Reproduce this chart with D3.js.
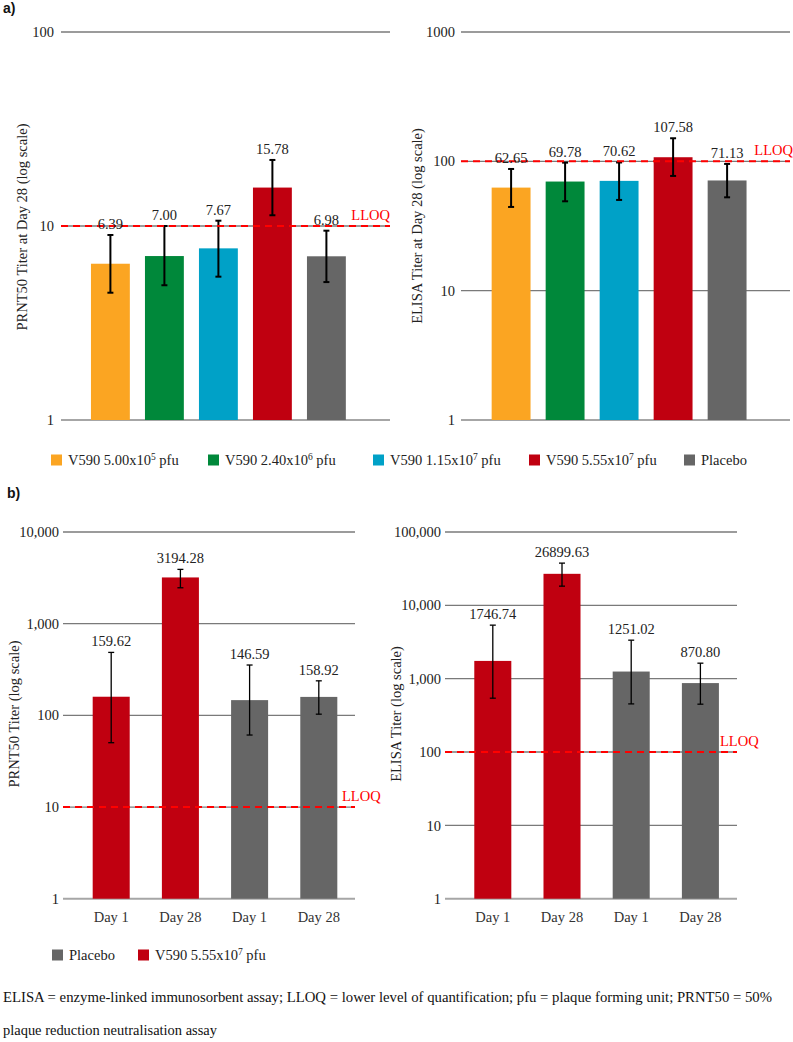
<!DOCTYPE html>
<html><head><meta charset="utf-8">
<script src="https://cdn.jsdelivr.net/npm/d3@7"></script>
<style>
body{margin:0;background:#fff}
svg{display:block}
</style>
</head><body>
<svg id="c" width="793" height="1042"></svg>
<script>
// ---------- data ----------
const doseBase = ["V590 5.00x10", "V590 2.40x10", "V590 1.15x10", "V590 5.55x10", "Placebo"];
const doseExp  = ["5", "6", "7", "7", ""];
const doseColors = ["#FBA522", "#00883A", "#00A1C7", "#C00010", "#666666"];

const prntD28    = [6.39, 7.00, 7.67, 15.78, 6.98];
const prntD28Lo  = [4.53, 4.95, 5.48, 11.36, 5.14];
const prntD28Hi  = [8.99, 10.0, 10.65, 21.9, 9.46];

const elisaD28   = [62.65, 69.78, 70.62, 107.58, 71.13];
const elisaD28Lo = [44.4, 49.1, 50.3, 77.1, 52.7];
const elisaD28Hi = [87.3, 97.7, 98.0, 150.8, 95.5];

const dayLabels  = ["Day 1", "Day 28", "Day 1", "Day 28"];
const dayGroup   = [3, 3, 4, 4]; // index into doseColors
const prntDay    = [159.62, 3194.28, 146.59, 158.92];
const prntDayLo  = [50.3, 2464, 61, 103];
const prntDayHi  = [486, 3910, 354, 238];
const elisaDay   = [1746.74, 26899.63, 1251.02, 870.80];
const elisaDayLo = [542, 18270, 453, 449];
const elisaDayHi = [5370, 37650, 3350, 1627];

const ticksA1 = [1, 10, 100];
const ticksA2 = [1, 10, 100, 1000];
const ticksB1 = [1, 10, 100, 1000, 10000];
const ticksB2 = [1, 10, 100, 1000, 10000, 100000];
const lloqPRNT = 10, lloqELISA = 100;

// ---------- drawing ----------
const SERIF = "'Liberation Serif', 'Times New Roman', Times, 'DejaVu Serif', serif";
const SANS = "'Liberation Sans', Arial, Helvetica, sans-serif";
const svg = d3.select("#c").attr("font-family", SERIF);
const fmt2 = d3.format(".2f");

function panel(o) {
  const g = svg.append("g");
  const y = d3.scaleLog().domain([1, o.max]).range([o.yBot, o.yTop]);
  const x = d3.scaleBand().domain(d3.range(o.values.length)).range(o.band)
    .paddingInner(o.pi).paddingOuter(o.pi / 2);

  // gridlines
  g.selectAll("line.grid").data(o.ticks.filter(t => t > 1)).join("line")
    .attr("x1", o.gx0).attr("x2", o.gx1)
    .attr("y1", d => y(d)).attr("y2", d => y(d))
    .attr("stroke", "#7a7a7a").attr("stroke-width", 1.3);
  // baseline
  g.append("line").attr("x1", o.gx0).attr("x2", o.gx1)
    .attr("y1", y(1)).attr("y2", y(1))
    .attr("stroke", "#a6a6a6").attr("stroke-width", 2);

  // axis labels
  const ax = g.append("g").attr("transform", `translate(${o.gx0},0)`)
    .call(d3.axisLeft(y).tickValues(o.ticks).tickSize(0).tickPadding(o.tp)
      .tickFormat(o.tickFmt));
  ax.attr("font-family", SERIF).attr("font-size", 14.5);
  ax.select(".domain").remove();
  ax.selectAll("text").attr("fill", "#222");

  // bars
  g.selectAll("rect.bar").data(o.values).join("rect")
    .attr("x", (d, i) => x(i)).attr("width", x.bandwidth())
    .attr("y", d => y(d)).attr("height", d => y(1) - y(d))
    .attr("fill", (d, i) => o.colors[i]);

  // error bars
  const eb = g.append("g").attr("stroke", "#000").attr("stroke-width", o.ew);
  o.values.forEach((v, i) => {
    const cx = x(i) + x.bandwidth() / 2;
    eb.append("line").attr("x1", cx).attr("x2", cx).attr("y1", y(o.hi[i])).attr("y2", y(o.lo[i]));
    eb.append("line").attr("x1", cx - 3).attr("x2", cx + 3).attr("y1", y(o.hi[i])).attr("y2", y(o.hi[i]));
    eb.append("line").attr("x1", cx - 3).attr("x2", cx + 3).attr("y1", y(o.lo[i])).attr("y2", y(o.lo[i]));
  });

  // LLOQ
  g.append("line").attr("x1", o.gx0).attr("x2", o.gx1)
    .attr("y1", y(o.lloq)).attr("y2", y(o.lloq))
    .attr("stroke", "#FF0000").attr("stroke-width", 2).attr("stroke-dasharray", "7,5");
  g.append("text").attr("x", o.lloqX).attr("y", y(o.lloq) - 6)
    .attr("text-anchor", o.lloqAnchor).attr("font-size", 14.5).attr("fill", "#FF0000")
    .text("LLOQ");

  // value labels
  g.selectAll("text.val").data(o.values).join("text")
    .attr("x", (d, i) => x(i) + x.bandwidth() / 2)
    .attr("y", (d, i) => y(o.hi[i]) - 6)
    .attr("text-anchor", "middle").attr("font-size", 14.5).attr("fill", "#222")
    .text(d => fmt2(d));

  // category labels
  if (o.cats) {
    g.selectAll("text.cat").data(o.cats).join("text")
      .attr("x", (d, i) => x(i) + x.bandwidth() / 2)
      .attr("y", y(1) + 23)
      .attr("text-anchor", "middle").attr("font-size", 14.5).attr("fill", "#333")
      .text(d => d);
  }

  // y title
  g.append("text").attr("transform", `translate(${o.tx},${o.ty}) rotate(-90)`)
    .attr("text-anchor", "middle").attr("dominant-baseline", "central")
    .attr("font-size", 14.5).attr("fill", "#222").text(o.title);
}

const plain = d => String(d);
const comma = d3.format(",");

panel({ max: 100, yTop: 32, yBot: 420, gx0: 61, gx1: 390, band: [83.4, 353.4], pi: 0.28,
  ticks: ticksA1, tickFmt: plain, tp: 7, values: prntD28, lo: prntD28Lo, hi: prntD28Hi,
  colors: doseColors, ew: 2, lloq: lloqPRNT, lloqX: 390, lloqAnchor: "end",
  title: "PRNT50 Titer at Day 28 (log scale)", tx: 22, ty: 227 });

panel({ max: 1000, yTop: 32, yBot: 420, gx0: 461, gx1: 790, band: [484.1, 754.1], pi: 0.28,
  ticks: ticksA2, tickFmt: plain, tp: 6, values: elisaD28, lo: elisaD28Lo, hi: elisaD28Hi,
  colors: doseColors, ew: 2, lloq: lloqELISA, lloqX: 793, lloqAnchor: "end",
  title: "ELISA Titer at Day 28 (log scale)", tx: 417, ty: 226 });

panel({ max: 10000, yTop: 532, yBot: 898.7, gx0: 63, gx1: 355, band: [76.6, 353.4], pi: 0.465,
  ticks: ticksB1, tickFmt: comma, tp: 4, values: prntDay, lo: prntDayLo, hi: prntDayHi,
  colors: dayGroup.map(k => doseColors[k]), ew: 1.3, lloq: lloqPRNT, lloqX: 342, lloqAnchor: "start",
  cats: dayLabels, title: "PRNT50 Titer (log scale)", tx: 14, ty: 714 });

panel({ max: 100000, yTop: 532, yBot: 898.7, gx0: 445, gx1: 737, band: [458.2, 735], pi: 0.465,
  ticks: ticksB2, tickFmt: comma, tp: 4, values: elisaDay, lo: elisaDayLo, hi: elisaDayHi,
  colors: dayGroup.map(k => doseColors[k]), ew: 1.3, lloq: lloqELISA, lloqX: 720, lloqAnchor: "start",
  cats: dayLabels, title: "ELISA Titer (log scale)", tx: 396, ty: 714 });

// panel letters
svg.append("text").attr("x", 3).attr("y", 13).attr("font-family", SANS)
  .attr("font-weight", "bold").attr("font-size", 14).attr("fill", "#111").text("a)");
svg.append("text").attr("x", 7).attr("y", 498).attr("font-family", SANS)
  .attr("font-weight", "bold").attr("font-size", 14).attr("fill", "#111").text("b)");

// legend a
const legAX = [51, 208, 373, 529, 684];
function legendItem(xp, yc, color, base, exp) {
  svg.append("rect").attr("x", xp).attr("y", yc - 5.5).attr("width", 11).attr("height", 11).attr("fill", color);
  const t = svg.append("text").attr("x", xp + 17).attr("y", yc + 5)
    .attr("font-size", 14.5).attr("fill", "#222");
  t.append("tspan").text(base);
  if (exp) {
    t.append("tspan").attr("dy", -5).attr("font-size", 9.5).text(exp);
    t.append("tspan").attr("dy", 5).text(" pfu");
  }
}
doseBase.forEach((b, i) => legendItem(legAX[i], 460, doseColors[i], b, doseExp[i]));

// legend b
const legBOrder = [4, 3];
const legBX = [52, 138];
legBOrder.forEach((k, j) => legendItem(legBX[j], 955, doseColors[k], doseBase[k], doseExp[k]));

// footnote
svg.append("text").attr("x", 3).attr("y", 1002).attr("font-size", 15).attr("fill", "#111")
  .attr("textLength", 769).attr("lengthAdjust", "spacingAndGlyphs")
  .text("ELISA = enzyme-linked immunosorbent assay; LLOQ = lower level of quantification; pfu = plaque forming unit; PRNT50 = 50%");
svg.append("text").attr("x", 3).attr("y", 1035).attr("font-size", 15).attr("fill", "#111")
  .attr("textLength", 214).attr("lengthAdjust", "spacingAndGlyphs")
  .text("plaque reduction neutralisation assay");
</script>
</body></html>
